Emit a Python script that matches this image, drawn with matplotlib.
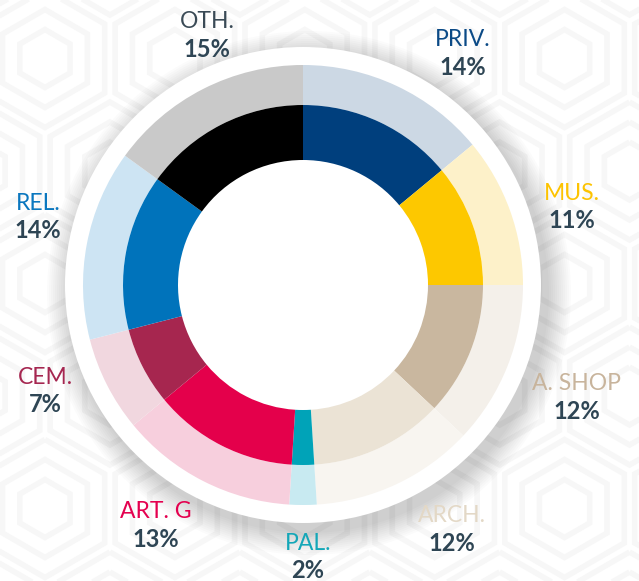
import matplotlib
matplotlib.use("Agg")
import matplotlib.pyplot as plt
from matplotlib.patches import Circle, RegularPolygon

# ---- data ----
labels = ["PRIV.", "MUS.", "A. SHOP", "ARCH.", "PAL.", "ART. G", "CEM.", "REL.", "OTH."]
values = [14, 11, 12, 12, 2, 13, 7, 14, 15]
inner_colors = ["#003f7d", "#fdc800", "#c9b79f", "#ebe3d5", "#00a3b8",
                "#e4004b", "#a6264f", "#0073bb", "#000000"]
outer_colors = ["#ccd8e4", "#fdf1c9", "#f4f0ea", "#f8f5f0", "#c8eaf1",
                "#f7cfdd", "#f1d7df", "#cde4f3", "#c9c9c9"]
label_colors = ["#0b4a86", "#fdc300", "#c8b49c", "#e3d8c6", "#14a7b8",
                "#e4004f", "#a52650", "#0a77bf", "#3a4a56"]
pct_color = "#2e4554"

# label positions (pixel coords from top-left)
label_pos = [(463, 40), (572, 193), (577, 384), (452, 516), (308, 543),
             (156, 512), (45, 377), (38, 203), (207, 22)]

W, H = 639, 581
fig = plt.figure(figsize=(W / 100, H / 100), dpi=100)
ax = fig.add_axes([0, 0, 1, 1])
fig.patch.set_facecolor("white")

# faint hexagon background pattern (decoration)
hex_r = 75
dx = hex_r * 3 ** 0.5
dy = hex_r * 1.5
row = 0
y = -40.0
while y < H + 100:
    x = -20.0 + (dx / 2 if row % 2 else 0)
    while x < W + 100:
        for rr in (hex_r - 6, hex_r - 26, hex_r - 46):
            ax.add_patch(RegularPolygon((x, y), 6, radius=rr, orientation=0,
                                        facecolor="none", edgecolor="#f7f7f7",
                                        linewidth=4, zorder=0))
        x += dx
    y += dy
    row += 1

cx, cy = 303, H - 285

# shadow + white disc
for r in range(262, 238, -2):
    ax.add_patch(Circle((cx + 6, cy - 8), r, facecolor="#000000", alpha=0.016,
                        edgecolor="none", zorder=1))
ax.add_patch(Circle((cx, cy), 238, facecolor="white", edgecolor="none", zorder=2))

ax.pie(values, radius=220, center=(cx, cy), startangle=90, counterclock=False,
       colors=outer_colors, wedgeprops=dict(width=40, linewidth=0, zorder=3))
ax.pie(values, radius=180, center=(cx, cy), startangle=90, counterclock=False,
       colors=inner_colors, wedgeprops=dict(width=55, linewidth=0, zorder=4))

fam = ["Lato", "DejaVu Sans"]
for lab, v, col, (x, y) in zip(labels, values, label_colors, label_pos):
    ax.text(x, H - y, lab, ha="center", va="center", fontsize=16.5,
            color=col, family=fam, zorder=5)
    ax.text(x, H - y - 27.5, f"{v}%", ha="center", va="center", fontsize=17,
            color=pct_color, family=fam, fontweight="bold", zorder=5)

ax.set_xlim(0, W)
ax.set_ylim(0, H)
ax.set_aspect("equal")
ax.axis("off")
fig.savefig("out.png", dpi=100, facecolor="white")
